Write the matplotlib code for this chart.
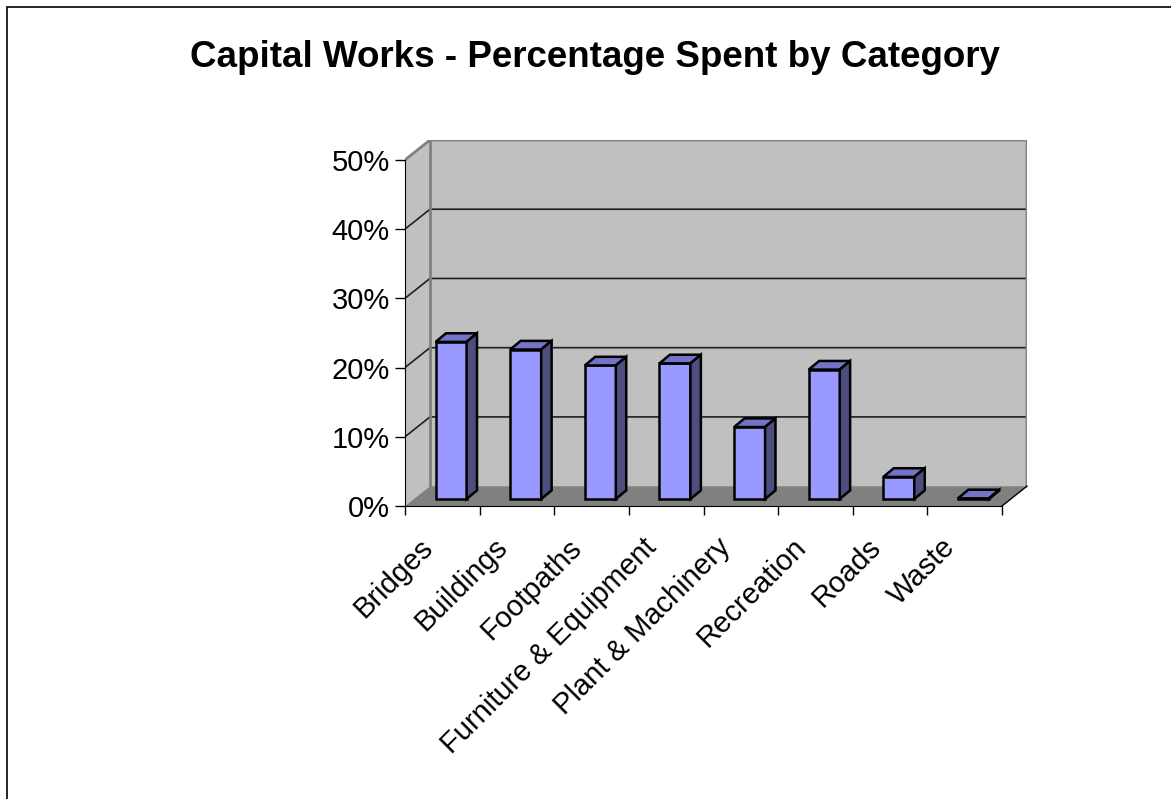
import matplotlib.pyplot as plt
from matplotlib.patches import Polygon, Rectangle
from matplotlib.ticker import PercentFormatter, FixedLocator
from matplotlib.transforms import offset_copy
import numpy as np

plt.rcParams['font.family'] = ['Liberation Sans', 'DejaVu Sans']

# data (percent)
categories = ['Bridges', 'Buildings', 'Footpaths', 'Furniture & Equipment',
              'Plant & Machinery', 'Recreation', 'Roads', 'Waste']
spent = [22.7, 21.6, 19.3, 19.6, 10.4, 18.7, 3.2, 0.1]
y_ticks = [0, 10, 20, 30, 40, 50]
title = 'Capital Works - Percentage Spent by Category'

# fake 3d depth, in data units
DX, DY = 0.335, 2.87
f = 0.35          # depth of bar front face
w = 0.415         # bar width
bdx, bdy = 0.14, 1.25

W, H = 1171, 799
fig = plt.figure(figsize=(W / 100, H / 100), dpi=100)
fig.patches.append(Rectangle((7 / W, -0.01), 1.1, (H - 7) / H + 0.01, transform=fig.transFigure,
                             fill=False, edgecolor='black', linewidth=1.2))
ax = fig.add_axes([405 / W, (H - 506) / H, 622 / W, 366 / H])
n = len(categories)
x0, x1 = -0.5, n - 0.5
top = y_ticks[-1]
ax.set_xlim(x0, x1 + DX)
ax.set_ylim(0, top + DY)
ax.patch.set_visible(False)

wall = '#C0C0C0'
edge = '#808080'
# back wall, side wall, floor
ax.add_patch(Polygon([(x0 + DX, DY), (x1 + DX, DY), (x1 + DX, top + DY), (x0 + DX, top + DY)],
                     closed=True, facecolor=wall, edgecolor='none', zorder=1))
ax.add_patch(Polygon([(x0, 0), (x0 + DX, DY), (x0 + DX, top + DY), (x0, top)],
                     closed=True, facecolor=wall, edgecolor='none', zorder=1))
ax.add_patch(Polygon([(x0, 0), (x1, 0), (x1 + DX, DY), (x0 + DX, DY)],
                     closed=True, facecolor=edge, edgecolor='none', zorder=1))
# gridlines
for t in y_ticks[1:-1]:
    ax.plot([x0, x0 + DX, x1 + DX], [t, t + DY, t + DY], color='#202020', lw=1.2, zorder=2)
ax.plot([x0, x0 + DX, x1 + DX, x1 + DX], [top, top + DY, top + DY, DY], color=edge, lw=2, zorder=2)
ax.plot([x0 + DX, x0 + DX], [DY, top + DY], color=edge, lw=2, zorder=2)
ax.plot([x1, x1 + DX], [0, DY], color='black', lw=1, zorder=2, clip_on=False)

# bars
for i, v in enumerate(spent):
    bx = i + f * DX - w / 2
    by = f * DY
    ax.add_patch(Rectangle((bx, by), w, v, facecolor='#9999FF', edgecolor='black', lw=1.8, zorder=3))
    ax.add_patch(Polygon([(bx, by + v), (bx + w, by + v), (bx + w + bdx, by + v + bdy), (bx + bdx, by + v + bdy)],
                         closed=True, facecolor='#7373C8', edgecolor='black', lw=1.8, zorder=3))
    ax.add_patch(Polygon([(bx + w, by), (bx + w, by + v), (bx + w + bdx, by + v + bdy), (bx + w + bdx, by + bdy)],
                         closed=True, facecolor='#4D4D80', edgecolor='black', lw=1.8, zorder=3))

for s in ['top', 'right']:
    ax.spines[s].set_visible(False)
ax.spines['left'].set_bounds(0, top)
ax.spines['bottom'].set_bounds(x0, x1)
ax.spines['left'].set_zorder(4)
ax.spines['bottom'].set_zorder(4)

ax.set_yticks(y_ticks)
ax.yaxis.set_major_formatter(PercentFormatter(decimals=0))
ax.tick_params(axis='y', length=7, width=1, labelsize=21, pad=4)
ax.xaxis.set_major_locator(FixedLocator(np.arange(n + 1) - 0.5))
ax.tick_params(axis='x', which='major', length=6.5, width=1, labelbottom=False)

# category labels, rotated, ending just left of each category centre
lab_tr = offset_copy(ax.transData, fig=fig, x=-14, y=-37, units='dots')
for i, c in enumerate(categories):
    ax.text(i, 0, c, transform=lab_tr, rotation=45, rotation_mode='anchor',
            ha='right', va='center', fontsize=21, clip_on=False)

fig.text(595 / W, 1 - 67 / H, title, ha='center', va='baseline', fontsize=26.5, fontweight='bold')

fig.savefig('out.png', dpi=100)
